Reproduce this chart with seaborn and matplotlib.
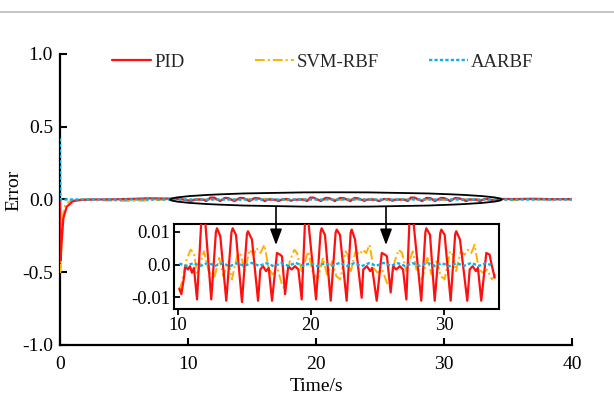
import numpy as np
import pandas as pd
import matplotlib
matplotlib.use("Agg")
import matplotlib.pyplot as plt
import seaborn as sns
from matplotlib.patches import Ellipse, FancyArrowPatch
from matplotlib.lines import Line2D

# ---------------- data ----------------
series_names = ["PID", "SVM-RBF", "AARBF"]

pid_t = [0.0, 0.03, 0.12, 0.26, 0.52, 1.0, 1.6, 2.5, 4.0, 5.5, 7.0, 8.5, 9.5,
         10.10, 10.25, 10.43, 10.55, 10.75, 10.90, 11.05, 11.20, 11.43, 11.75, 12.05,
         12.50, 12.85, 12.93, 13.18, 13.63, 14.02, 14.11, 14.36, 14.81, 15.18, 15.26, 15.56, 16.02,
         16.19, 16.39, 16.62, 16.82, 17.07, 17.44, 17.67, 17.82, 18.05, 18.29,
         18.55, 18.80, 19.05, 19.30, 19.55, 19.80, 20.38, 20.72, 20.80, 21.05, 21.48,
         21.85, 21.93, 22.18, 22.68, 22.98, 23.06, 23.31, 23.81, 23.93, 24.20, 24.45, 24.60,
         24.94, 25.32, 25.56, 25.71, 25.99, 26.17, 26.41, 26.67, 26.92, 27.17,
         27.40, 27.70, 28.29, 28.60, 28.67, 28.95, 29.30, 29.72, 29.80, 30.05, 30.50, 30.84, 30.92,
         31.20, 31.75, 31.93, 32.15, 32.40, 32.55, 32.80, 33.18, 33.43, 33.55,
         33.81, 34.3, 35.5, 37.0, 38.5, 40.0]
pid_v = [0.0, -0.42, -0.30, -0.13, -0.05, -0.012, -0.003, 0.0, 0.001, 0.004, 0.008, 0.006, 0.002,
         -0.0073, -0.0090, -0.0045, -0.0005, -0.0015, -0.0005, -0.0025, -0.0010, -0.0106, 0.0130, 0.0130,
         -0.0106, 0.0098, 0.0110, 0.0086, -0.0110, 0.0098, 0.0110, 0.0090, -0.0114, 0.0092, 0.0101, 0.0076, -0.0110,
         -0.0015, -0.0005, -0.0020, -0.0010, -0.0110, 0.0035, 0.0030, 0.0025, -0.0090, -0.0005,
         -0.0015, -0.0005, -0.0015, -0.0106, 0.0130, 0.0130, -0.0106, 0.0098, 0.0110, 0.0090, -0.0110,
         0.0096, 0.0106, 0.0090, -0.0110, 0.0096, 0.0106, 0.0076, -0.0101, -0.0015, -0.0005, -0.0020, -0.0010,
         -0.0110, 0.0035, 0.0030, 0.0025, -0.0085, -0.0005, -0.0015, -0.0005, -0.0015, -0.0106,
         0.0130, 0.0130, -0.0110, 0.0098, 0.0110, 0.0090, -0.0110, 0.0096, 0.0106, 0.0090, -0.0110, 0.0092, 0.0101,
         0.0076, -0.0110, -0.0015, -0.0005, -0.0020, -0.0010, -0.0110, 0.0035, 0.0030, 0.0005,
         -0.0040, 0.004, 0.003, 0.005, 0.002, 0.003]

svm_t = [0.0, 0.02, 0.06, 0.15, 0.25, 0.4, 0.7, 1.1, 2.0, 3.5, 5.0, 6.5, 8.0, 9.3,
         10.10, 10.25, 10.6, 10.95, 11.2, 11.45, 11.95, 12.3, 12.7, 13.1, 13.4, 13.8,
         14.05, 14.5, 14.75, 15.0, 15.4, 15.7, 15.9, 16.2, 16.5, 16.8, 17.1, 17.5,
         17.85, 18.05, 18.4, 18.75, 18.95, 19.3, 19.8, 20.1, 20.5, 20.9, 21.2, 21.6,
         21.9, 22.2, 22.6, 22.75, 23.0, 23.35, 23.65, 23.9, 24.15, 24.4, 24.7, 25.0,
         25.35, 25.75, 25.95, 26.3, 26.6, 26.85, 27.15, 27.65, 27.95, 28.35, 28.75,
         29.05, 29.45, 29.75, 30.05, 30.45, 30.65, 30.9, 31.25, 31.55, 31.8, 32.05,
         32.3, 32.6, 32.9, 33.25, 33.6, 33.9, 35.5, 36.5, 37.8, 39.0, 40.0]
svm_v = [0.0, -0.50, -0.45, -0.25, -0.10, -0.04, -0.015, -0.004, 0.002, -0.006, -0.010, -0.008, -0.002, 0.003,
         -0.0080, -0.0060, 0.0010, 0.0045, 0.0035, -0.0030, 0.0040, -0.0020, -0.0045, 0.0020, -0.0035, 0.0010,
         -0.0045, 0.0035, 0.0028, -0.0020, 0.0045, 0.0030, 0.0050, 0.0035, 0.0060, -0.0010, -0.0030, -0.0015,
         -0.0065, -0.0075, 0.0010, 0.0045, 0.0035, -0.0020, 0.0040, -0.0020, -0.0045, 0.0020, -0.0030, 0.0010,
         -0.0035, -0.0045, 0.0040, 0.0030, -0.0020, 0.0040, 0.0030, 0.0045, 0.0035, 0.0060, -0.0010, -0.0025,
         -0.0015, -0.0060, -0.0070, 0.0010, 0.0045, 0.0035, -0.0020, 0.0040, -0.0020, -0.0045, 0.0020,
         -0.0030, 0.0010, -0.0035, -0.0045, 0.0040, 0.0030, -0.0020, 0.0040, 0.0030, 0.0045, 0.0035,
         0.0060, -0.0010, -0.0025, -0.0015, -0.0045, -0.0030, -0.005, 0.004, -0.006, 0.003, -0.002]

aar_t = [0.0, 0.03, 2.0, 5.0, 8.0, 10.1, 10.6, 11.15, 11.7, 12.25, 12.8, 13.35, 13.9, 14.45,
         15.0, 15.55, 16.1, 16.65, 17.2, 17.75, 18.3, 18.85, 19.4, 19.95, 20.5, 21.05, 21.6,
         22.15, 22.7, 23.25, 23.8, 24.35, 24.9, 25.45, 26.0, 26.55, 27.1, 27.65, 28.2, 28.75,
         29.3, 29.85, 30.4, 30.95, 31.5, 32.05, 32.6, 33.15, 33.7, 34.3, 36.0, 38.0, 40.0]
aar_v = [0.42, 0.0, 0.0004, -0.0003, 0.0003, 0.0003, -0.0004, 0.0004, -0.0004, 0.0005, -0.0004, 0.0004, -0.0005, 0.0004,
         -0.0004, 0.0005, -0.0004, 0.0004, -0.0005, 0.0004, -0.0004, 0.0005, -0.0004, 0.0004, -0.0005, 0.0004, -0.0004,
         0.0005, -0.0004, 0.0004, -0.0005, 0.0004, -0.0004, 0.0005, -0.0004, 0.0004, -0.0005, 0.0004, -0.0004, 0.0005,
         -0.0004, 0.0004, -0.0005, 0.0004, -0.0004, 0.0005, -0.0004, 0.0004, -0.0004, 0.0002, -0.0003, 0.0003, 0.0]

main_xticks = [0, 10, 20, 30, 40]
main_yticks = [-1.0, -0.5, 0.0, 0.5, 1.0]
main_ylabels = ["-1.0", "-0.5", "0.0", "0.5", "1.0"]
inset_xticks = [10, 20, 30]
inset_yticks = [-0.01, 0.0, 0.01]
inset_ylabels = ["-0.01", "0.0", "0.01"]

# ---------------- styling ----------------
sns.set_theme(style="ticks")
plt.rcParams["font.family"] = ["Liberation Serif", "DejaVu Serif"]
plt.rcParams["axes.unicode_minus"] = False

colors = {"PID": "#FF1010", "SVM-RBF": "#FFB000", "AARBF": "#10B0E8"}
styles = {"PID": "-", "SVM-RBF": (0, (5, 1.6, 1, 1.6)), "AARBF": (0, (1.4, 0.9))}
widths = {"PID": 1.6, "SVM-RBF": 1.4, "AARBF": 1.7}
zorders = {"PID": 3.2, "SVM-RBF": 3.0, "AARBF": 3.4}

frames = []
for name, t, v in zip(series_names, [pid_t, svm_t, aar_t], [pid_v, svm_v, aar_v]):
    frames.append(pd.DataFrame({"t": t, "v": v, "series": name}))
df = pd.concat(frames, ignore_index=True)

fig = plt.figure(figsize=(6.14, 3.94), dpi=100)
ax = fig.add_axes([0.09772, 0.12437, 0.83388, 0.73858])

handles = {}
for name in series_names:
    d = df[df["series"] == name]
    sns.lineplot(data=d, x="t", y="v", ax=ax, color=colors[name], linestyle=styles[name],
                 lw=widths[name], estimator=None, sort=False, legend=False, zorder=zorders[name])
    handles[name] = ax.get_lines()[-1]

ax.set_xlim(0, 40)
ax.set_ylim(-1.0, 1.0)
ax.set_xticks(main_xticks)
ax.set_xticklabels([str(x) for x in main_xticks])
ax.set_yticks(main_yticks)
ax.set_yticklabels(main_ylabels)
ax.tick_params(direction="in", length=5, width=1.5, labelsize=14, colors="black")
ax.tick_params(axis="x", pad=8)
ax.tick_params(axis="y", pad=5)
for s in ["top", "right"]:
    ax.spines[s].set_visible(False)
for s in ["left", "bottom"]:
    ax.spines[s].set_linewidth(1.6)
    ax.spines[s].set_color("black")
ax.set_xlabel("Time/s", fontsize=14, color="black")
ax.set_ylabel("Error", fontsize=14, color="black")
ax.xaxis.set_label_coords(0.5, -0.115)
ax.yaxis.set_label_coords(-0.074, 0.53)

# ellipse marking zoom region
ax.add_patch(Ellipse((21.55, 0.0), 25.9, 0.099, fill=False, ec="black", lw=1.3, zorder=6))

# legends (three separate entries)
leg_pos = {"PID": 112, "SVM-RBF": 255, "AARBF": 429}
for name in series_names:
    fig.legend(handles=[handles[name]], labels=[name], loc="center left",
               bbox_to_anchor=(leg_pos[name] / 614, 1 - 62 / 394), frameon=False,
               handlelength=2.1, handletextpad=0.15, borderpad=0, borderaxespad=0,
               fontsize=13.5)

# inset
axin = fig.add_axes([0.2842, 0.21574, 0.5285, 0.21574])
for name in series_names:
    d = df[(df["series"] == name) & (df["t"] >= 10.05) & (df["t"] <= 33.95)]
    sns.lineplot(data=d, x="t", y="v", ax=axin, color=colors[name], linestyle=styles[name],
                 lw=widths[name], estimator=None, sort=False, legend=False, zorder=zorders[name])
axin.set_xlim(9.737, 34.135)
axin.set_ylim(-0.0135, 0.0123)
axin.set_xticks(inset_xticks)
axin.set_xticklabels([str(x) for x in inset_xticks])
axin.set_yticks(inset_yticks)
axin.set_yticklabels(inset_ylabels)
axin.set_xlabel("")
axin.set_ylabel("")
axin.tick_params(axis="x", direction="out", length=4, width=1.3, labelsize=13.5, pad=1.5, colors="black")
axin.tick_params(axis="y", direction="in", length=4, width=1.3, labelsize=13.5, pad=3, colors="black")
for s in axin.spines.values():
    s.set_visible(True)
    s.set_linewidth(1.5)
    s.set_color("black")

# arrows from ellipse down into the inset
inv = fig.transFigure.inverted()
for xd, xp in [(16.875, 276), (25.47, 386)]:
    start = inv.transform(ax.transData.transform((xd, -0.0495)))
    end = (xp / 614, 1 - 245 / 394)
    arr = FancyArrowPatch((start[0], start[1]), end, transform=fig.transFigure,
                          arrowstyle="-|>,head_length=0.8,head_width=0.3", mutation_scale=12,
                          color="black", lw=1.2, shrinkA=0, shrinkB=0)
    fig.add_artist(arr)

# thin grey rule at the top of the page
fig.add_artist(Line2D([0, 1], [1 - 11.5 / 394, 1 - 11.5 / 394], transform=fig.transFigure,
                      color="#BBBBBB", lw=1.2))

fig.savefig("out.png", dpi=100)
